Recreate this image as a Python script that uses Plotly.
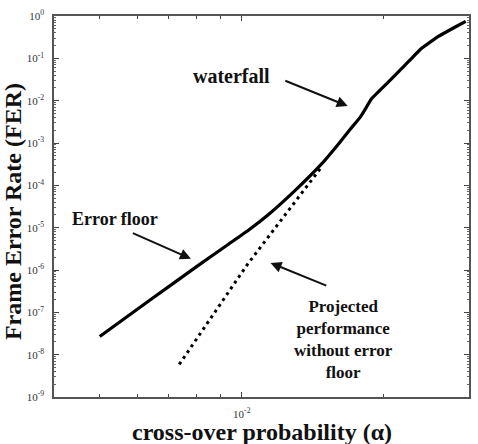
import numpy as np
import plotly.graph_objects as go

# Solid curve: measured FER vs cross-over probability
alpha_meas = [5.00e-3, 6.37e-3, 8.13e-3, 9.40e-3, 1.036e-2, 1.141e-2, 1.301e-2, 1.476e-2,
              1.603e-2, 1.699e-2, 1.783e-2, 1.827e-2, 1.881e-2, 2.043e-2, 2.218e-2,
              2.398e-2, 2.604e-2, 2.827e-2, 2.982e-2]
fer_meas = [2.69e-8, 1.9e-7, 1.34e-6, 4.17e-6, 8.9e-6, 2.07e-5, 7.8e-5, 3.2e-4,
            9.5e-4, 2.14e-3, 4.1e-3, 6.3e-3, 1.09e-2, 2.74e-2, 6.9e-2,
            0.169, 0.324, 0.542, 0.75]

# Dotted line: projected performance without error floor
alpha_proj = [7.37e-3, 1.027e-2, 1.478e-2]
fer_proj = [5.9e-9, 1.34e-6, 2.77e-4]

y_tick_vals = [10.0 ** (-k) for k in range(0, 10)]
y_tick_text = ["10<sup>0</sup>"] + ["10<sup>-%d</sup>" % k for k in range(1, 10)]
x_tick_vals = [1e-2]
x_tick_text = ["10<sup>-2</sup>"]

FONT = "Liberation Serif"

fig = go.Figure()
fig.add_trace(go.Scatter(x=alpha_meas, y=fer_meas, mode="lines",
                         line=dict(color="black", width=3.2, shape="spline", smoothing=0.3),
                         showlegend=False))
fig.add_trace(go.Scatter(x=alpha_proj, y=fer_proj, mode="lines",
                         line=dict(color="black", width=3, dash="3px,4px"),
                         showlegend=False))

y_minor = [m * 10.0 ** (-k) for k in range(1, 10) for m in range(2, 10)]
x_minor = [m * 1e-3 for m in range(5, 10)] + [2e-2]

fig.update_xaxes(type="log", range=[np.log10(0.004), np.log10(0.0303)],
                 tickvals=x_tick_vals, ticktext=x_tick_text,
                 ticks="inside", ticklen=5, tickcolor="#444", tickwidth=1,
                 minor=dict(tickvals=x_minor, ticks="inside", ticklen=3, tickcolor="#444"),
                 showline=True, linecolor="#555", linewidth=1.5, mirror="allticks",
                 showgrid=False, zeroline=False, ticklabelstandoff=6,
                 tickfont=dict(family=FONT, size=11, color="#333"))
fig.update_yaxes(type="log", range=[-9, 0],
                 tickvals=y_tick_vals, ticktext=y_tick_text,
                 ticks="inside", ticklen=5, tickcolor="#444", tickwidth=1,
                 minor=dict(tickvals=y_minor, ticks="inside", ticklen=2.5, tickcolor="#666"),
                 showline=True, linecolor="#555", linewidth=1.5, mirror="allticks",
                 showgrid=False, zeroline=False, ticklabelstandoff=6,
                 tickfont=dict(family=FONT, size=11, color="#333"))

bold = dict(family=FONT, size=18, color="#111")
annotations = [
    # text labels
    dict(x=-2.0217, y=-1.409, xref="x", yref="y", text="<b>waterfall</b>",
         showarrow=False, font=dict(family=FONT, size=20, color="#111")),
    dict(x=-2.2683, y=-4.79, xref="x", yref="y", text="<b>Error floor</b>",
         showarrow=False, font=bold),
    dict(x=-1.7846, y=-7.653, xref="x", yref="y",
         text="<b>Projected<br>performance<br>without error<br>floor</b>",
         showarrow=False, font=dict(family=FONT, size=17, color="#111"), align="center"),
    # arrows
    dict(x=-1.7756, y=-2.128, ax=-1.911, ay=-1.515, xref="x", yref="y",
         axref="x", ayref="y", text="", showarrow=True, arrowhead=2,
         arrowsize=1.1, arrowwidth=2, arrowcolor="#111"),
    dict(x=-2.1077, y=-5.733, ax=-2.2341, ay=-5.113, xref="x", yref="y",
         axref="x", ayref="y", text="", showarrow=True, arrowhead=2,
         arrowsize=1.1, arrowwidth=2, arrowcolor="#111"),
    dict(x=-1.9391, y=-5.834, ax=-1.8177, ay=-6.385, xref="x", yref="y",
         axref="x", ayref="y", text="", showarrow=True, arrowhead=2,
         arrowsize=1.1, arrowwidth=2, arrowcolor="#111"),
    # axis titles
    dict(x=0.5, y=-0.0915, xref="paper", yref="paper", xanchor="center", yanchor="middle",
         text="<b>cross-over probability (α)</b>", showarrow=False,
         font=dict(family=FONT, size=24, color="#111")),
    dict(x=-0.0983, y=0.486, xref="paper", yref="paper", xanchor="center", yanchor="middle",
         text="<b>Frame Error Rate (FER)</b>", showarrow=False, textangle=-90,
         font=dict(family=FONT, size=24, color="#111")),
]

fig.update_layout(width=478, height=444,
                  margin=dict(l=54, r=7, t=16, b=46.5),
                  paper_bgcolor="white", plot_bgcolor="white",
                  annotations=annotations, showlegend=False)

fig.write_html("out.html")
